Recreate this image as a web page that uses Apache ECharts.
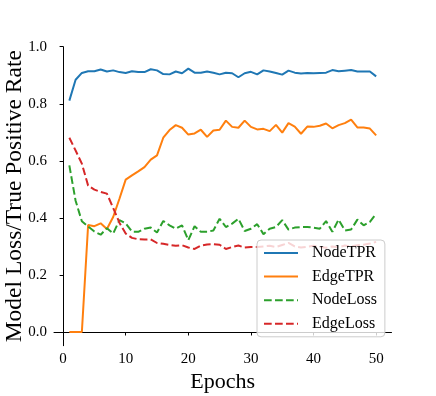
<!DOCTYPE html>
<html>
<head>
<meta charset="utf-8">
<script src="https://cdn.jsdelivr.net/npm/echarts@6/dist/echarts.min.js"></script>
<style>
  html, body { margin: 0; padding: 0; background: #fff; }
  #chart { width: 436px; height: 396px; }
</style>
</head>
<body>
<div id="chart"></div>
<script>
const epochs = [1, 2, 3, 4, 5, 6, 7, 8, 9, 10, 11, 12, 13, 14, 15, 16, 17, 18, 19, 20,
  21, 22, 23, 24, 25, 26, 27, 28, 29, 30, 31, 32, 33, 34, 35, 36, 37, 38, 39, 40,
  41, 42, 43, 44, 45, 46, 47, 48, 49, 50]

const nodeTPR = [0.811, 0.884, 0.908, 0.914, 0.914, 0.920, 0.913, 0.917, 0.911, 0.908,
  0.914, 0.911, 0.911, 0.921, 0.917, 0.904, 0.903, 0.913, 0.907, 0.923,
  0.909, 0.909, 0.913, 0.909, 0.903, 0.909, 0.907, 0.893, 0.907, 0.912,
  0.903, 0.917, 0.913, 0.908, 0.902, 0.916, 0.909, 0.906, 0.908, 0.907,
  0.908, 0.909, 0.918, 0.914, 0.916, 0.918, 0.913, 0.913, 0.913, 0.896]

const edgeTPR = [0.0, 0.0, 0.0, 0.375, 0.371, 0.381, 0.361, 0.403, 0.467, 0.534,
  0.549, 0.563, 0.578, 0.604, 0.619, 0.681, 0.708, 0.725, 0.716, 0.692,
  0.696, 0.709, 0.684, 0.706, 0.709, 0.741, 0.719, 0.716, 0.741, 0.719,
  0.710, 0.712, 0.704, 0.726, 0.699, 0.732, 0.720, 0.695, 0.720, 0.719,
  0.723, 0.731, 0.714, 0.725, 0.732, 0.744, 0.717, 0.717, 0.713, 0.689]

const nodeLoss = [0.584, 0.460, 0.388, 0.370, 0.352, 0.341, 0.364, 0.345, 0.392, 0.381,
  0.352, 0.351, 0.362, 0.366, 0.349, 0.389, 0.374, 0.362, 0.374, 0.322,
  0.371, 0.351, 0.351, 0.356, 0.397, 0.368, 0.380, 0.397, 0.354, 0.362,
  0.378, 0.343, 0.362, 0.368, 0.392, 0.359, 0.366, 0.368, 0.368, 0.366,
  0.362, 0.389, 0.351, 0.394, 0.356, 0.359, 0.394, 0.374, 0.386, 0.415]

const edgeLoss = [0.681, 0.636, 0.590, 0.513, 0.499, 0.491, 0.485, 0.435, 0.383, 0.345,
  0.330, 0.325, 0.324, 0.325, 0.312, 0.309, 0.305, 0.302, 0.304, 0.296,
  0.291, 0.303, 0.307, 0.308, 0.306, 0.291, 0.298, 0.303, 0.296, 0.298,
  0.298, 0.300, 0.302, 0.298, 0.305, 0.312, 0.300, 0.296, 0.299, 0.302,
  0.298, 0.295, 0.300, 0.297, 0.303, 0.300, 0.304, 0.306, 0.310, 0.316]

const xTicks = [0, 10, 20, 30, 40, 50]
const yTicks = [0, 0.2, 0.4, 0.6, 0.8, 1.0]

const serif = "'Liberation Serif', 'DejaVu Serif', serif"
const colors = ['#1f77b4', '#ff7f0e', '#2ca02c', '#d62728']

function pairs(ys) {
  return epochs.map((e, i) => [e, ys[i]])
}

function line(name, ys, color, dashed) {
  return {
    name: name,
    type: 'line',
    data: pairs(ys),
    symbol: 'none',
    showSymbol: false,
    silent: true,
    lineStyle: {
      color: color,
      width: 2,
      type: dashed ? [7.7, 3.3] : 'solid'
    },
    itemStyle: { color: color }
  }
}

const chart = echarts.init(document.getElementById('chart'), null, { renderer: 'canvas' })
chart.setOption({
  animation: false,
  backgroundColor: '#fff',
  grid: {
    left: 54,
    top: 46.7,
    width: 337.5,
    height: 299,
    containLabel: false,
    outerBoundsMode: 'none'
  },
  legend: {
    orient: 'vertical',
    left: 257,
    top: 240,
    width: 126,
    itemWidth: 34,
    itemHeight: 16,
    itemGap: 7.6,
    padding: [5, 8, 5, 6],
    backgroundColor: 'rgba(255,255,255,0.8)',
    borderColor: '#cccccc',
    borderWidth: 1,
    borderRadius: 4,
    selectedMode: false,
    itemStyle: { color: 'transparent', borderWidth: 0, opacity: 0 },
    textStyle: {
      fontFamily: serif,
      fontSize: 16,
      color: '#000',
      padding: [0, 0, 0, 9]
    },
    data: ['NodeTPR', 'EdgeTPR', 'NodeLoss', 'EdgeLoss']
  },
  xAxis: {
    type: 'value',
    min: -1.45,
    max: 52.45,
    name: 'Epochs',
    nameLocation: 'middle',
    nameGap: 25,
    nameTextStyle: { fontFamily: serif, fontSize: 22, color: '#000' },
    axisLine: { show: true, lineStyle: { color: '#000', width: 1 } },
    axisTick: { show: true, length: 3.5, customValues: xTicks, lineStyle: { color: '#000', width: 1 } },
    axisLabel: {
      customValues: xTicks,
      margin: 6,
      fontFamily: serif,
      fontSize: 15,
      color: '#000'
    },
    splitLine: { show: false }
  },
  yAxis: {
    type: 'value',
    min: -0.048,
    max: 1.0,
    name: 'Model Loss/True Positive Rate',
    nameLocation: 'middle',
    nameGap: 27,
    nameMoveOverlap: false,
    nameTextStyle: { fontFamily: serif, fontSize: 23.5, color: '#000' },
    axisLine: { show: true, lineStyle: { color: '#000', width: 1 } },
    axisTick: { show: true, length: 3.5, customValues: yTicks, lineStyle: { color: '#000', width: 1 } },
    axisLabel: {
      customValues: yTicks,
      margin: 7,
      fontFamily: serif,
      fontSize: 15,
      color: '#000',
      formatter: function (v) { return v.toFixed(1) }
    },
    splitLine: { show: false }
  },
  series: [
    line('NodeTPR', nodeTPR, colors[0], false),
    line('EdgeTPR', edgeTPR, colors[1], false),
    line('NodeLoss', nodeLoss, colors[2], true),
    line('EdgeLoss', edgeLoss, colors[3], true)
  ]
})
</script>
</body>
</html>
